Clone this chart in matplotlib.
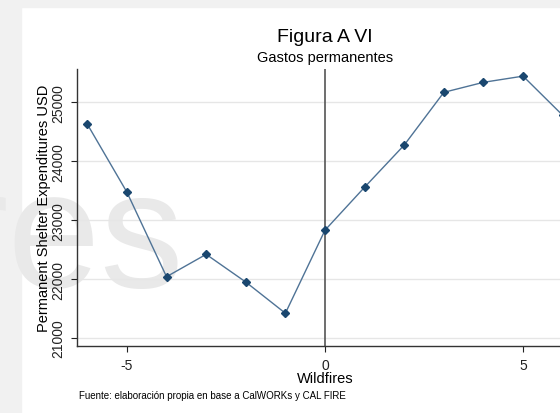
import numpy as np
import matplotlib.pyplot as plt
from matplotlib.patches import Rectangle

plt.rcParams['font.family'] = ['Liberation Sans', 'DejaVu Sans']
plt.rcParams['axes.unicode_minus'] = False

# event time relative to wildfire
periods = [-6, -5, -4, -3, -2, -1, 0, 1, 2, 3, 4, 5, 6]
spend = [24630, 23475, 22040, 22420, 21950, 21420, 22830,
         23560, 24275, 25170, 25340, 25445, 24780]
yticks = [21000, 22000, 23000, 24000, 25000]
xticks = [-5, 0, 5]

fig = plt.figure(figsize=(5.6, 4.14), dpi=100)

# light grey frame of the screenshot
fig.patches.append(Rectangle((0, 0), 21/560, 1, transform=fig.transFigure,
                             color='#f1f1f1', zorder=-2))
fig.patches.append(Rectangle((0, 1 - 8/414), 1, 8/414, transform=fig.transFigure,
                             color='#f1f1f1', zorder=-2))

# watermark behind everything
fig.text(184/560, 1 - 287/414, 'res', fontsize=120, color='#e9e9e9',
         ha='right', va='baseline', zorder=-1)

ax = fig.add_axes([77/560, 67/414, 496/560, 277/414])
ax.patch.set_alpha(0)

ax.plot(periods, spend, color='#4f7396', lw=1.0, marker='D', ms=4.5,
        mfc='#1a476f', mec='#1a476f', zorder=3)
ax.axvline(0, color='#555555', lw=1.2, zorder=2)

ax.set_xlim(-6.26, 6.26)
ax.set_ylim(20864, 25566)
ax.set_xticks(xticks)
ax.set_yticks(yticks)
ax.set_yticklabels([str(v) for v in yticks], rotation=90, va='center')
ax.tick_params(labelsize=10, colors='#222222', length=4, width=0.8)
ax.tick_params(axis='x', pad=5)
ax.tick_params(axis='y', pad=4.5)
ax.grid(axis='y', color='#e6e6e6', lw=1)
ax.set_axisbelow(True)

for s in ['top', 'right']:
    ax.spines[s].set_visible(False)
for s in ['left', 'bottom']:
    ax.spines[s].set_color('#333333')
    ax.spines[s].set_linewidth(1.0)

ax.set_xlabel('Wildfires', fontsize=10.5, labelpad=-1)
ax.set_ylabel('Permanent Shelter Expenditures USD', fontsize=10.5, labelpad=0)

fig.text(325/560, 1 - 37/414, 'Figura A VI', fontsize=14, ha='center', va='center')
fig.text(325/560, 1 - 58/414, 'Gastos permanentes', fontsize=10.5, ha='center', va='center')
fig.text(79/560, 1 - 396/414, 'Fuente: elaboración propia en base a CalWORKs y CAL FIRE',
         fontsize=7, ha='left', va='center')

fig.savefig('out.png', dpi=100)
